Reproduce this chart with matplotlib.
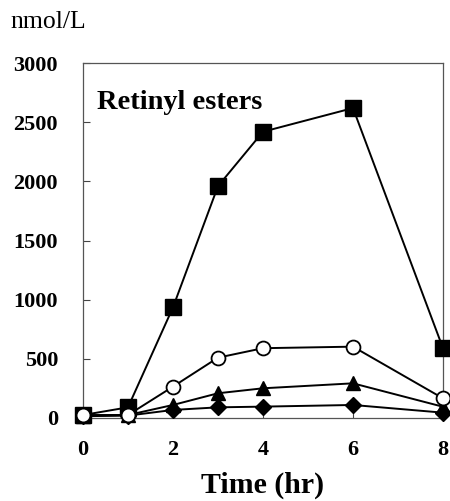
import matplotlib
matplotlib.use("Agg")
import matplotlib.pyplot as plt

time_hr = [0, 1, 2, 3, 4, 6, 8]
squares = [25, 90, 935, 1960, 2420, 2620, 590]
circles = [25, 25, 265, 510, 590, 603, 166]
triangles = [20, 25, 110, 209, 251, 293, 95]
diamonds = [15, 20, 68, 90, 96, 110, 45]

x_ticks = [0, 2, 4, 6, 8]
y_ticks = [0, 500, 1000, 1500, 2000, 2500, 3000]

plt.rcParams['font.family'] = ['Liberation Serif', 'DejaVu Serif']

fig = plt.figure(figsize=(4.5, 5.01), dpi=100)
ax = fig.add_axes([0.1844, 0.1657, 0.80, 0.7083])

lw = 1.4
ax.plot(time_hr, diamonds, color='black', lw=lw, marker='D', ms=8, mfc='black', mec='black', clip_on=False, zorder=3)
ax.plot(time_hr, triangles, color='black', lw=lw, marker='^', ms=10, mfc='black', mec='black', clip_on=False, zorder=3)
ax.plot(time_hr, circles, color='black', lw=lw, marker='o', ms=10, mfc='white', mec='black', mew=1.3, clip_on=False, zorder=4)
ax.plot(time_hr, squares, color='black', lw=lw, marker='s', ms=11, mfc='black', mec='black', clip_on=False, zorder=3)

ax.set_xlim(0, 8)
ax.set_ylim(0, 3000)
ax.set_xticks(x_ticks)
ax.set_yticks(y_ticks)
ax.tick_params(direction='in', length=5, width=0.8, colors='#444444', labelcolor='black')
for lab in ax.get_xticklabels() + ax.get_yticklabels():
    lab.set_fontweight('bold')
    lab.set_fontsize(16)
ax.tick_params(axis='y', pad=18)
ax.tick_params(axis='x', pad=16)
for s in ax.spines.values():
    s.set_color('#555555')
    s.set_linewidth(0.9)

ax.text(0.04, 0.89, 'Retinyl esters', transform=ax.transAxes, fontsize=20.5, fontweight='bold', ha='left', va='center')
fig.text(10/450, 1 - 22/501, 'nmol/L', fontsize=18.5, ha='left', va='center')
ax.set_xlabel('Time (hr)', fontsize=21.5, fontweight='bold', labelpad=8)

fig.savefig('out.png', dpi=100)
